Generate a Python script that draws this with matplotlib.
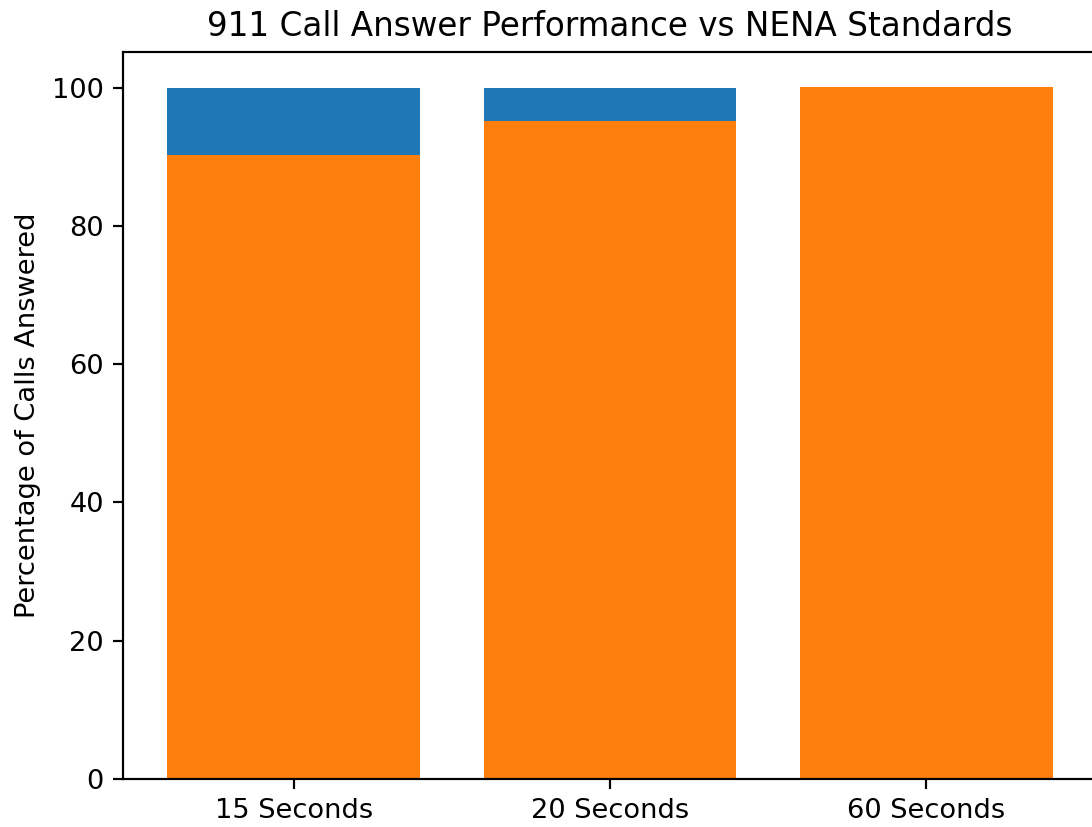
import numpy as np
import matplotlib.pyplot as plt

# data
labels = ['15 Seconds', '20 Seconds', '60 Seconds']
answered = [99.9, 99.9, 99.9]
standard = [90.3, 95.1, 100.1]

s = 1.96  # scale from default 100 dpi look
plt.rcParams['font.size'] = 10 * s
plt.rcParams['axes.linewidth'] = 0.8 * s
plt.rcParams['xtick.major.size'] = 3.5 * s
plt.rcParams['ytick.major.size'] = 3.5 * s
plt.rcParams['xtick.major.width'] = 0.8 * s
plt.rcParams['ytick.major.width'] = 0.8 * s
plt.rcParams['xtick.major.pad'] = 3.5 * s
plt.rcParams['ytick.major.pad'] = 3.5 * s

W, H = 1092, 827
fig = plt.figure(figsize=(W / 100, H / 100), dpi=100)
ax = fig.add_axes([123 / W, 1 - 779 / H, (1097 - 123) / W, (779 - 52.3) / H])

ax.bar(labels, answered, color='tab:blue')
ax.bar(labels, standard, color='tab:orange')

ax.set_title('911 Call Answer Performance vs NENA Standards', fontsize=12 * s, pad=6 * s)
ax.set_ylabel('Percentage of Calls Answered', fontsize=10 * s, labelpad=4 * s)

fig.savefig('out.png', dpi=100)
